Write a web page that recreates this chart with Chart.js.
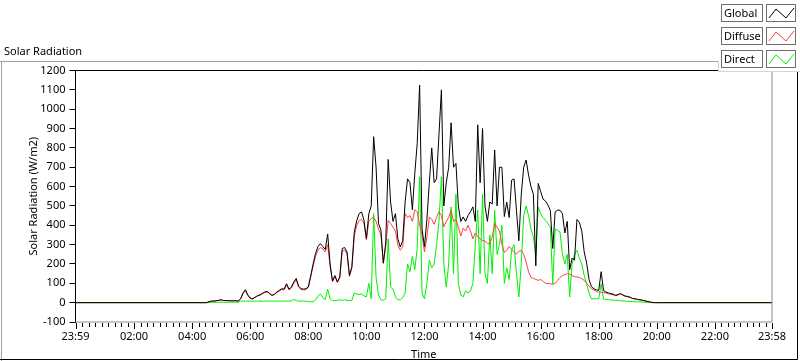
<!DOCTYPE html>
<html>
<head>
<meta charset="utf-8">
<title>Solar Radiation</title>
<script src="https://cdn.jsdelivr.net/npm/chart.js@4.4.1/dist/chart.umd.min.js"></script>
<style>
  html, body { margin: 0; padding: 0; background: #fff; }
  canvas { display: block; }
</style>
</head>
<body>
<canvas id="solarChart" width="800" height="361"></canvas>
<script>
// one sample every 5 minutes, 04:30 .. 20:05 (W/m2)
const sampleStart = '04:30';
const sampleStepMinutes = 5;

const globalValues = [
    0, 5, 8, 8, 10, 12,                                        // 04:30
    15, 11, 11, 10, 10, 10, 10, 8, 20, 50, 67, 40,             // 05
    24, 20, 28, 36, 40, 48, 55, 58, 48, 38, 44, 55,            // 06
    64, 72, 70, 98, 70, 80, 107, 125, 85, 72, 70, 72,          // 07
    81, 140, 200, 255, 290, 305, 290, 275, 355, 200, 112, 140, // 08
    107, 133, 280, 285, 262, 140, 185, 365, 423, 461, 469, 426,// 09
    331, 460, 500, 858, 700, 410, 375, 205, 310, 740, 520, 420,// 10
    460, 330, 288, 320, 520, 640, 620, 480, 668, 823, 1125, 380,// 11
    290, 430, 620, 800, 620, 640, 870, 1100, 500, 620, 700, 930,// 12
    700, 720, 500, 420, 443, 420, 450, 470, 495, 420, 919, 620,// 13
    900, 500, 420, 520, 510, 789, 500, 700, 700, 445, 520, 440,// 14
    633, 640, 478, 320, 560, 700, 737, 660, 600, 560, 190, 616,// 15
    575, 535, 525, 505, 478, 280, 470, 478, 478, 460, 360, 420,// 16
    170, 230, 220, 430, 415, 370, 262, 205, 120, 82, 72, 66,   // 17
    64, 160, 62, 55, 50, 47, 44, 38, 42, 47, 40, 34,           // 18
    32, 28, 22, 20, 17, 15, 13, 10, 7, 4, 2, 0,                // 19
    0, 0                                                       // 20
];

const diffuseValues = [
    0, 5, 8, 8, 10, 12,
    14, 11, 11, 10, 10, 10, 10, 8, 18, 46, 62, 37,
    23, 19, 27, 34, 38, 46, 52, 55, 46, 36, 42, 52,
    60, 68, 66, 92, 66, 76, 100, 118, 80, 68, 66, 68,
    78, 132, 190, 240, 272, 285, 278, 262, 300, 190, 108, 135,
    104, 128, 265, 272, 252, 136, 180, 345, 400, 425, 430, 410,
    325, 420, 435, 440, 420, 380, 350, 202, 290, 426, 409, 390,
    370, 297, 271, 290, 461, 440, 450, 420, 480, 470, 400, 350,
    262, 340, 443, 430, 405, 440, 470, 450, 392, 420, 440, 478,
    420, 430, 390, 345, 385, 370, 400, 370, 330, 360, 340, 330,
    320, 320, 305, 305, 340, 409, 390, 370, 300, 260, 271, 290,
    275, 262, 250, 265, 270, 250, 210, 160, 130, 125, 120, 115,
    120, 110, 100, 98, 98, 95, 100, 115, 130, 140, 145, 150,
    148, 140, 135, 133, 130, 125, 115, 100, 85, 72, 65, 58,
    55, 53, 52, 50, 46, 43, 40, 36, 40, 45, 38, 32,
    30, 27, 21, 19, 16, 14, 12, 9, 6, 3, 1, 0,
    0, 0
];

const directValues = [
    0, 1, 2, 2, 2, 2,
    2, 2, 2, 2, 2, 2, 2, 2, 8, 8, 8, 8,
    8, 8, 8, 8, 8, 8, 8, 8, 8, 8, 8, 8,
    8, 8, 8, 8, 8, 10, 16, 12, 8, 8, 8, 8,
    5, 5, 5, 15, 35, 45, 25, 15, 70, 20, 10, 10,
    12, 15, 12, 15, 12, 10, 12, 50, 45, 42, 45, 35,
    30, 100, 20, 460, 130, 40, 15, 12, 20, 330, 80, 70,
    30, 15, 15, 25, 50, 200, 160, 240, 170, 280, 650, 50,
    20, 100, 220, 180, 200, 300, 420, 650, 200, 80, 200, 495,
    150, 560, 100, 40, 30, 60, 50, 60, 100, 300, 478, 150,
    560, 150, 100, 350, 150, 478, 250, 300, 400, 100, 180, 120,
    271, 300, 150, 30, 200, 450, 500, 450, 380, 340, 250, 495,
    460, 440, 425, 409, 390, 98, 380, 374, 365, 250, 200, 250,
    29, 200, 250, 271, 230, 200, 140, 98, 50, 20, 20, 20,
    20, 98, 18, 16, 15, 14, 13, 12, 11, 10, 9, 8,
    7, 6, 5, 5, 4, 4, 3, 2, 1, 0, 0, 0,
    0, 0
];

// night readings outside the sampled window
const nightValue = 0;

// time axis: 23:59 of the previous day to 23:58
const axisStart = '23:59';
const axisEnd = '23:58';
const xTickLabels = ['23:59', '02:00', '04:00', '06:00', '08:00', '10:00', '12:00',
                     '14:00', '16:00', '18:00', '20:00', '22:00', '23:58'];
const minorTicksPerStep = 8;

const yMin = -100;
const yMax = 1200;
const yStep = 100;

const seriesNames = ['Global', 'Diffuse', 'Direct'];
const seriesColors = ['#000000', '#ff4040', '#00f000'];

const FONT = '"Noto Sans", "DejaVu Sans", sans-serif';
const FONT_SIZE = 11;

function toHours(t) {
    const parts = t.split(':');
    return parseInt(parts[0], 10) + parseInt(parts[1], 10) / 60;
}

const xMin = toHours(axisStart) - 24;
const xMax = toHours(axisEnd);
const xTickValues = xTickLabels.map(function (t, i) {
    return i === 0 ? xMin : toHours(t);
});

function buildPoints(values) {
    const t0 = toHours(sampleStart);
    const pts = [{ x: xMin, y: nightValue }];
    values.forEach(function (v, i) {
        pts.push({ x: t0 + i * sampleStepMinutes / 60, y: v });
    });
    pts.push({ x: xMax, y: nightValue });
    return pts;
}

const seriesValues = [globalValues, diffuseValues, directValues];

// frame, minor ticks, panel title and LabVIEW style legend
const panelPlugin = {
    id: 'panel',
    beforeDraw(chart) {
        const ctx = chart.ctx;
        ctx.save();
        ctx.fillStyle = '#ffffff';
        ctx.fillRect(0, 0, chart.width, chart.height);
        ctx.restore();
    },
    afterDraw(chart) {
        const ctx = chart.ctx;
        const a = chart.chartArea;
        const xs = chart.scales.x;
        ctx.save();

        // plot border
        ctx.lineWidth = 1;
        ctx.strokeStyle = '#000000';
        ctx.beginPath();
        ctx.moveTo(a.left, a.bottom);
        ctx.lineTo(a.left, a.top);
        ctx.lineTo(a.right, a.top);
        ctx.stroke();
        ctx.strokeStyle = '#8c8c8c';
        ctx.beginPath();
        ctx.moveTo(a.right, a.top);
        ctx.lineTo(a.right, a.bottom);
        ctx.lineTo(a.left, a.bottom);
        ctx.stroke();

        // x tick marks, major and minor
        ctx.strokeStyle = '#000000';
        ctx.beginPath();
        for (let i = 0; i < xTickValues.length; i++) {
            const px = Math.round(xs.getPixelForValue(xTickValues[i])) + 0.5;
            ctx.moveTo(px, a.bottom + 1);
            ctx.lineTo(px, a.bottom + 7);
            if (i < xTickValues.length - 1) {
                const step = (xTickValues[i + 1] - xTickValues[i]) / (minorTicksPerStep + 1);
                for (let k = 1; k <= minorTicksPerStep; k++) {
                    const mx = Math.round(xs.getPixelForValue(xTickValues[i] + k * step)) + 0.5;
                    ctx.moveTo(mx, a.bottom + 1);
                    ctx.lineTo(mx, a.bottom + 5);
                }
            }
        }
        ctx.stroke();

        // outer panel edges
        ctx.strokeStyle = '#a0a0a0';
        ctx.beginPath();
        ctx.moveTo(0, 61.5);
        ctx.lineTo(718, 61.5);
        ctx.moveTo(1.5, 61.5);
        ctx.lineTo(1.5, 361);
        ctx.stroke();
        ctx.strokeStyle = '#000000';
        ctx.beginPath();
        ctx.moveTo(797.5, 72);
        ctx.lineTo(797.5, 359.5);
        ctx.lineTo(0, 359.5);
        ctx.stroke();

        // panel caption
        ctx.fillStyle = '#000000';
        ctx.font = FONT_SIZE + 'px ' + FONT;
        ctx.textBaseline = 'alphabetic';
        ctx.textAlign = 'left';
        ctx.fillText('Solar Radiation', 4, 55);

        // legend
        ctx.fillStyle = '#ffffff';
        ctx.fillRect(718, 0, 82, 72);
        ctx.strokeStyle = '#d4d4d4';
        ctx.beginPath();
        ctx.moveTo(718.5, 61);
        ctx.lineTo(718.5, 71.5);
        ctx.lineTo(800, 71.5);
        ctx.stroke();
        const rowTops = [4, 27, 50];
        seriesNames.forEach(function (name, i) {
            const top = rowTops[i];
            ctx.strokeStyle = '#6e6e6e';
            ctx.strokeRect(721.5, top + 0.5, 41, 17);
            ctx.strokeRect(766.5, top + 0.5, 29, 17);
            ctx.fillStyle = '#000000';
            ctx.fillText(name, 724, top + 13);
            ctx.strokeStyle = seriesColors[i];
            ctx.beginPath();
            ctx.moveTo(769, top + 14);
            ctx.lineTo(776, top + 5);
            ctx.lineTo(786, top + 14);
            ctx.lineTo(794, top + 4);
            ctx.stroke();
        });

        ctx.restore();
    }
};

const ctx = document.getElementById('solarChart').getContext('2d');

new Chart(ctx, {
    type: 'line',
    data: {
        datasets: seriesNames.map(function (name, i) {
            return {
                label: name,
                data: buildPoints(seriesValues[i]),
                borderColor: seriesColors[i],
                borderWidth: 1,
                pointRadius: 0,
                tension: 0,
                fill: false
            };
        })
    },
    options: {
        responsive: false,
        animation: false,
        devicePixelRatio: 1,
        layout: {
            padding: { top: 70.5, right: 28, bottom: 0, left: 0 }
        },
        plugins: {
            legend: { display: false },
            tooltip: { enabled: false }
        },
        scales: {
            x: {
                type: 'linear',
                min: xMin,
                max: xMax,
                afterBuildTicks: function (scale) {
                    scale.ticks = xTickValues.map(function (v) { return { value: v }; });
                },
                afterFit: function (scale) {
                    scale.height = 39;
                },
                ticks: {
                    autoSkip: false,
                    maxRotation: 0,
                    padding: 8,
                    color: '#000000',
                    font: { family: FONT, size: FONT_SIZE },
                    callback: function (value, index) {
                        return xTickLabels[index];
                    }
                },
                grid: { display: false, drawTicks: false },
                border: { display: false },
                title: {
                    display: true,
                    text: 'Time',
                    color: '#000000',
                    font: { family: FONT, size: FONT_SIZE },
                    padding: { top: 0, bottom: 0 }
                }
            },
            y: {
                min: yMin,
                max: yMax,
                afterFit: function (scale) {
                    scale.width = 75.5;
                },
                ticks: {
                    stepSize: yStep,
                    padding: 4,
                    color: '#000000',
                    font: { family: FONT, size: FONT_SIZE },
                    callback: function (value) {
                        return String(value);
                    }
                },
                grid: {
                    drawOnChartArea: false,
                    drawTicks: true,
                    tickLength: 6,
                    tickColor: '#000000'
                },
                border: { display: false },
                title: {
                    display: true,
                    text: 'Solar Radiation (W/m2)',
                    color: '#000000',
                    font: { family: FONT, size: FONT_SIZE },
                    padding: { top: 27, bottom: 0 }
                }
            }
        }
    },
    plugins: [panelPlugin]
});
</script>
</body>
</html>
